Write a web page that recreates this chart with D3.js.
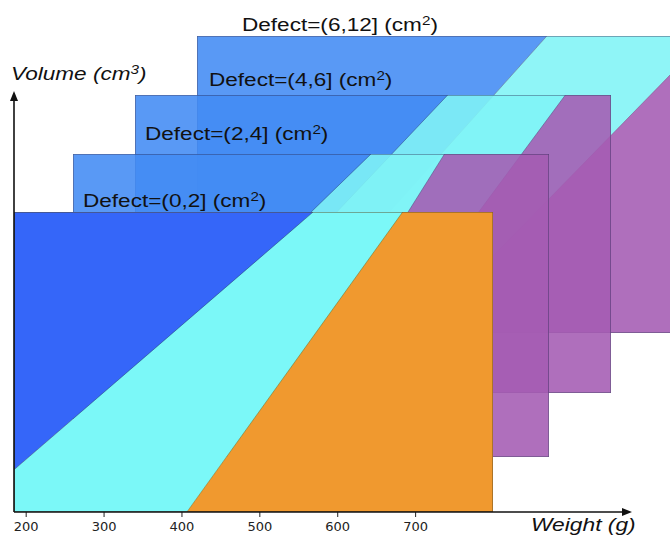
<!DOCTYPE html>
<html>
<head>
<meta charset="utf-8">
<script src="https://cdn.jsdelivr.net/npm/d3@7"></script>
<style>
  html, body { margin: 0; padding: 0; background: #fff; }
  svg { display: block; }
</style>
</head>
<body>
<svg id="chart" width="670" height="536"></svg>
<script>
// Defect-size classes, from the front panel to the back one
const defectClasses = ["(0,2]", "(2,4]", "(4,6]", "(6,12]"];
// Weight (g) where the blue/cyan boundary meets the lowest and highest volume
const lowBoundaryAtVolMin = [122, 166, 224, 293];
const lowBoundaryAtVolMax = [569, 570, 589, 636];
// Weight (g) where the cyan/outer boundary meets the lowest and highest volume
const highBoundaryAtVolMin = [407, 419, 456, 470];
const highBoundaryAtVolMax = [684, 665, 741, 844];
// Axis ranges and ticks
const weightDomain = [185, 800];
const volumeDomain = [0, 900];
const weightTicks = [200, 300, 400, 500, 600, 700];

// Layout of the stacked panels: [left, top, right, bottom], front to back
const panelBoxes = [[14, 212, 493, 512], [73, 154, 549, 457], [135, 95, 611, 393], [197, 36, 674, 333]];
const labelOffsets = [[69, -5], [72, -14], [74, -9], [45, -5]];

const frontColors = { low: "#3566f9", mid: "#7bf8f8", high: "#f0992f", opacity: 1 };
const backColors  = { low: "#438cf4", mid: "#80f4f7", high: "#a55cb3", opacity: 0.88 };

const svg = d3.select("#chart");
const defs = svg.append("defs");
const [v0, v1] = volumeDomain;
const farL = -3000, farR = 5000;

let frontX = null;

// Back panels first so the front one ends up on top
d3.range(defectClasses.length).reverse().forEach(i => {
  const [left, top, right, bottom] = panelBoxes[i];
  const x = d3.scaleLinear().domain(weightDomain).range([left, right]);
  const y = d3.scaleLinear().domain(volumeDomain).range([bottom, top]);
  if (i === 0) frontX = x;
  const pal = i === 0 ? frontColors : backColors;

  defs.append("clipPath").attr("id", "panel-clip-" + i)
    .append("rect")
    .attr("x", left).attr("y", top)
    .attr("width", right - left).attr("height", bottom - top);

  const g = svg.append("g")
    .attr("clip-path", `url(#panel-clip-${i})`)
    .attr("opacity", pal.opacity);

  const a0 = lowBoundaryAtVolMin[i], a1 = lowBoundaryAtVolMax[i];
  const b0 = highBoundaryAtVolMin[i], b1 = highBoundaryAtVolMax[i];
  const regions = [
    { fill: pal.low,  pts: [[farL, v0], [a0, v0], [a1, v1], [farL, v1]] },
    { fill: pal.mid,  pts: [[a0, v0], [b0, v0], [b1, v1], [a1, v1]] },
    { fill: pal.high, pts: [[b0, v0], [farR, v0], [farR, v1], [b1, v1]] }
  ];
  const line = d3.line().x(d => x(d[0])).y(d => y(d[1]));

  g.selectAll("path.region").data(regions).join("path")
    .attr("class", "region")
    .attr("d", d => line(d.pts) + "Z")
    .attr("fill", d => d.fill);

  // class boundaries
  g.append("path").attr("d", line([[a0, v0], [a1, v1]]))
    .attr("fill", "none").attr("stroke", "#1c2b66").attr("stroke-opacity", 0.55).attr("stroke-width", 0.9);
  g.append("path").attr("d", line([[b0, v0], [b1, v1]]))
    .attr("fill", "none").attr("stroke", i === 0 ? "#6b6a1e" : "#4a2a66").attr("stroke-opacity", 0.55).attr("stroke-width", 0.9);

  // panel frame
  g.append("rect")
    .attr("x", x(weightDomain[0])).attr("y", y(v1))
    .attr("width", x(weightDomain[1]) - x(weightDomain[0]))
    .attr("height", y(v0) - y(v1))
    .attr("fill", "none")
    .attr("stroke", i === 0 ? "#5a4a22" : "#2c2c55")
    .attr("stroke-opacity", 0.7)
    .attr("stroke-width", 1.3);
});

// Defect labels above each panel
defectClasses.forEach((cls, i) => {
  const [left, top] = panelBoxes[i];
  const [ox, oy] = labelOffsets[i];
  const t = svg.append("g")
    .attr("transform", `translate(${left + ox},${top + oy}) scale(1.22,1)`)
    .append("text")
    .attr("font-family", "Liberation Sans, Arial, sans-serif")
    .attr("font-size", 18.5)
    .attr("fill", "#111");
  t.append("tspan").text(`Defect=${cls} (cm`);
  t.append("tspan").attr("font-size", 12.5).attr("dy", -6).text("2");
  t.append("tspan").attr("dy", 6).text(")");
});

// Axes
const axisY = panelBoxes[0][3];
const axisX = panelBoxes[0][0];
const xAxis = d3.axisBottom(frontX).tickValues(weightTicks).tickSize(5).tickPadding(5);
const axG = svg.append("g").attr("transform", `translate(0,${axisY})`).call(xAxis);
axG.select(".domain").remove();
axG.selectAll(".tick line").attr("stroke", "#222").attr("stroke-width", 1);
axG.selectAll(".tick text")
  .attr("font-family", "DejaVu Sans, sans-serif")
  .attr("font-size", 13)
  .attr("fill", "#222");

const axisColor = "#111";
// horizontal arrow
svg.append("line").attr("x1", axisX).attr("y1", axisY).attr("x2", 624).attr("y2", axisY)
  .attr("stroke", axisColor).attr("stroke-width", 1.6);
svg.append("path").attr("d", `M632,${axisY} L622,${axisY - 4} L622,${axisY + 4} Z`).attr("fill", axisColor);
// vertical arrow
svg.append("line").attr("x1", axisX).attr("y1", axisY).attr("x2", axisX).attr("y2", 100)
  .attr("stroke", axisColor).attr("stroke-width", 1.6);
svg.append("path").attr("d", `M${axisX},91 L${axisX - 4},101 L${axisX + 4},101 Z`).attr("fill", axisColor);

// Axis titles
const vt = svg.append("g").attr("transform", "translate(11,80) scale(1.22,1)")
  .append("text")
  .attr("font-family", "Liberation Sans, Arial, sans-serif")
  .attr("font-style", "italic").attr("font-size", 18.5).attr("fill", "#111");
vt.append("tspan").text("Volume (cm");
vt.append("tspan").attr("font-size", 12.5).attr("dy", -6).text("3");
vt.append("tspan").attr("dy", 6).text(")");

svg.append("g").attr("transform", "translate(531,531) scale(1.2,1)")
  .append("text")
  .attr("font-family", "Liberation Sans, Arial, sans-serif")
  .attr("font-style", "italic").attr("font-size", 19).attr("fill", "#111")
  .text("Weight (g)");
</script>
</body>
</html>
